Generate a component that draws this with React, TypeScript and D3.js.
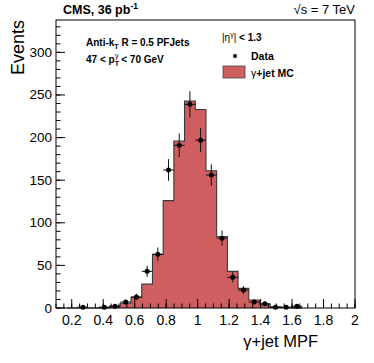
import React, { useEffect, useRef } from 'react';
import * as d3 from 'd3';

// bin edges of the MPF histogram
const binEdges = [0.169, 0.237, 0.305, 0.373, 0.441, 0.509, 0.577, 0.645, 0.713, 0.781, 0.849, 0.917,
    0.985, 1.053, 1.121, 1.189, 1.257, 1.325, 1.393, 1.461, 1.529, 1.597, 1.665];

// gamma+jet MC, events per bin
const mcValues = [0, 0, 0, 0.2, 2.3, 5.5, 12.5, 28, 63, 126, 196, 243, 233, 161, 84, 43, 23, 9.4, 4.3, 1.5, 0.5, 0.2];

// data, events per bin (0 = not drawn)
const dataValues = [0, 1, 0, 1, 2, 7, 13, 43, 63, 162, 191, 239, 197, 156, 82, 36, 21, 7, 5, 1, 1, 2];

const xMajorTicks = [0.2, 0.4, 0.6, 0.8, 1.0, 1.2, 1.4, 1.6, 1.8, 2.0];
const xTickLabels = ['0.2', '0.4', '0.6', '0.8', '1', '1.2', '1.4', '1.6', '1.8', '2'];
const yMajorTicks = [0, 50, 100, 150, 200, 250, 300];

const W = 374, H = 363;
const M = { left: 56, right: 355, top: 20, bottom: 308 };
const FILL = '#cf5e61';
const FONT = '"Liberation Sans", Arial, Helvetica, sans-serif';

const App = () => {
    const svgRef = useRef<SVGSVGElement>(null);

    useEffect(() => {
        const svg = d3.select(svgRef.current);
        svg.selectAll('*').remove();
        svg.attr('font-family', FONT);

        const x = d3.scaleLinear().domain([0.1, 2.0]).range([M.left, M.right]);
        const y = d3.scaleLinear().domain([0, 338]).range([M.bottom, M.top]);

        // histogram (step) points
        const pts: [number, number][] = [];
        mcValues.forEach((v, i) => {
            pts.push([binEdges[i], v]);
            pts.push([binEdges[i + 1], v]);
        });

        const area = d3.area<[number, number]>()
            .x(d => x(d[0]))
            .y0(y(0))
            .y1(d => y(d[1]));
        const line = d3.line<[number, number]>()
            .x(d => x(d[0]))
            .y(d => y(d[1]));

        svg.append('path').attr('d', area(pts)).attr('fill', FILL);
        svg.append('path').attr('d', line(pts)).attr('fill', 'none')
            .attr('stroke', '#3a3a3a').attr('stroke-width', 1.1);

        // data points with errors
        const dg = svg.append('g');
        dataValues.forEach((v, i) => {
            if (v <= 0) return;
            const lo = binEdges[i], hi = binEdges[i + 1];
            const c = (lo + hi) / 2;
            const e = Math.sqrt(v);
            dg.append('line').attr('x1', x(lo)).attr('x2', x(hi)).attr('y1', y(v)).attr('y2', y(v))
                .attr('stroke', '#111').attr('stroke-width', 1);
            dg.append('line').attr('x1', x(c)).attr('x2', x(c)).attr('y1', y(Math.max(0, v - e))).attr('y2', y(v + e))
                .attr('stroke', '#111').attr('stroke-width', 1);
            dg.append('circle').attr('cx', x(c)).attr('cy', y(v)).attr('r', 2.5).attr('fill', '#000');
        });

        // frame
        svg.append('rect').attr('x', M.left).attr('y', M.top)
            .attr('width', M.right - M.left).attr('height', M.bottom - M.top)
            .attr('fill', 'none').attr('stroke', '#000').attr('stroke-width', 1);

        // x ticks (inside, pointing up)
        const xMinor = d3.range(0.1, 2.0001, 0.05);
        svg.append('g').selectAll('line').data(xMinor).join('line')
            .attr('x1', d => x(d)).attr('x2', d => x(d))
            .attr('y1', M.bottom).attr('y2', M.bottom - 4.5)
            .attr('stroke', '#000');
        svg.append('g').selectAll('line').data(xMajorTicks).join('line')
            .attr('x1', d => x(d)).attr('x2', d => x(d))
            .attr('y1', M.bottom).attr('y2', M.bottom - 9)
            .attr('stroke', '#000');
        svg.append('g').selectAll('text').data(xMajorTicks).join('text')
            .attr('x', d => x(d)).attr('y', 325)
            .attr('text-anchor', 'middle').attr('font-size', 14)
            .text((d, i) => xTickLabels[i]);

        // y ticks (inside, pointing right)
        const yMinor = d3.range(0, 331, 10);
        svg.append('g').selectAll('line').data(yMinor).join('line')
            .attr('x1', M.left).attr('x2', M.left + 4.5)
            .attr('y1', d => y(d)).attr('y2', d => y(d))
            .attr('stroke', '#000');
        svg.append('g').selectAll('line').data(yMajorTicks).join('line')
            .attr('x1', M.left).attr('x2', M.left + 9)
            .attr('y1', d => y(d)).attr('y2', d => y(d))
            .attr('stroke', '#000');
        svg.append('g').selectAll('text').data(yMajorTicks).join('text')
            .attr('x', 52).attr('y', d => y(d) + 4.5)
            .attr('text-anchor', 'end').attr('font-size', 13.5)
            .text(d => d);

        // axis titles
        svg.append('text').attr('transform', `translate(24,${M.top}) rotate(-90)`)
            .attr('text-anchor', 'end').attr('font-size', 18).text('Events');
        svg.append('text').attr('x', 318).attr('y', 347)
            .attr('text-anchor', 'end').attr('font-size', 16.5).text('γ+jet MPF');

        // header
        const cms = svg.append('text').attr('x', 63).attr('y', 14)
            .attr('font-size', 12.5).attr('font-weight', 'bold');
        cms.append('tspan').text('CMS, 36 pb');
        cms.append('tspan').attr('dy', -5).attr('font-size', 8.5).text('-1');
        svg.append('text').attr('x', 355).attr('y', 14).attr('text-anchor', 'end')
            .attr('font-size', 13).text('√s = 7 TeV');

        // selection labels
        const t1 = svg.append('text').attr('x', 86).attr('y', 46)
            .attr('font-size', 10).attr('font-weight', 'bold');
        t1.append('tspan').text('Anti-k');
        t1.append('tspan').attr('dy', 2.5).attr('font-size', 7).text('T');
        t1.append('tspan').attr('dy', -2.5).text(' R = 0.5 PFJets');

        const t2 = svg.append('text').attr('x', 86).attr('y', 63)
            .attr('font-size', 10).attr('font-weight', 'bold');
        t2.append('tspan').text('47 < p');
        t2.append('tspan').attr('dy', 2.5).attr('font-size', 7).text('T');
        t2.append('tspan').attr('dx', -4).attr('dy', -8).attr('font-size', 7)
            .attr('font-weight', 'normal').text('γ');
        t2.append('tspan').attr('dy', 5.5).text(' < 70 GeV');

        const t3 = svg.append('text').attr('x', 222).attr('y', 41)
            .attr('font-size', 10).attr('font-weight', 'bold');
        t3.append('tspan').attr('font-weight', 'normal').text('|η');
        t3.append('tspan').attr('dy', -4).attr('font-size', 7).attr('font-weight', 'normal').text('γ');
        t3.append('tspan').attr('dy', 4).attr('font-weight', 'normal').text('|');
        t3.append('tspan').text(' < 1.3');

        // legend
        svg.append('circle').attr('cx', 235).attr('cy', 56).attr('r', 2).attr('fill', '#000');
        svg.append('text').attr('x', 251).attr('y', 59.5)
            .attr('font-size', 10.5).attr('font-weight', 'bold').text('Data');
        svg.append('rect').attr('x', 223).attr('y', 66).attr('width', 22).attr('height', 12)
            .attr('fill', FILL).attr('stroke', '#444').attr('stroke-width', 0.8);
        const t4 = svg.append('text').attr('x', 251).attr('y', 76.5)
            .attr('font-size', 10.5).attr('font-weight', 'bold');
        t4.append('tspan').attr('font-weight', 'normal').text('γ');
        t4.append('tspan').text('+jet MC');
    }, []);

    return (
        <svg ref={svgRef} width={W} height={H}
            style={{ position: 'absolute', left: 0, top: 0, background: '#fff' }} />
    );
};

export default App;
